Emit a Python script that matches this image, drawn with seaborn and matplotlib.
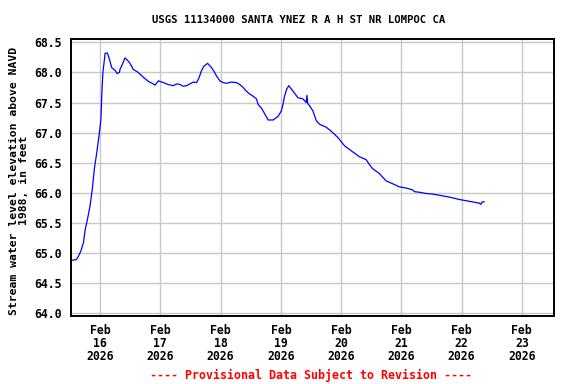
import matplotlib
matplotlib.use("Agg")
import matplotlib.pyplot as plt
import pandas as pd
import seaborn as sns

# hours after 2026-02-16 00:00
hours = [-11.25, -9.5, -8.6, -7.7, -6.6, -6.0, -5.0, -4.0, -3.1, -2.3,
         -1.3, -0.3, 0.3, 0.7, 1.1, 2.0, 2.9, 3.7, 4.6, 6.0,
         6.8, 7.7, 7.9, 8.7, 9.9, 10.7, 11.9, 13.2, 14.8, 15.9,
         17.2, 19.2, 20.7, 21.9, 23.2, 25.2, 27.0, 29.1, 30.6, 31.8,
         33.0, 34.5, 35.8, 37.1, 38.4, 39.3, 40.4, 41.3, 42.8, 44.4,
         45.3, 46.4, 47.7, 49.0, 50.5, 52.3, 54.3, 55.6, 57.0, 58.0,
         59.6, 60.8, 62.3, 62.9, 64.4, 65.6, 66.9, 68.9, 70.9, 72.2,
         72.9, 73.5, 74.3, 75.2, 75.9, 76.8, 77.9, 78.8, 80.8, 82.1,
         82.4, 82.7, 83.4, 84.8, 86.1, 87.4, 90.1, 92.7, 94.7, 97.4,
         100.0, 103.3, 106.0, 107.3, 108.6, 111.3, 113.9, 116.6, 119.2, 121.9,
         124.5, 125.2, 127.2, 129.8, 132.5, 135.1, 139.1, 143.1, 147.0, 151.0,
         151.7, 152.2, 153.0]
# water level elevation, feet
level = [64.88, 64.89, 64.95, 65.03, 65.18, 65.38, 65.57, 65.79, 66.07, 66.40,
         66.68, 67.00, 67.22, 67.67, 68.00, 68.32, 68.32, 68.22, 68.08, 68.03,
         67.98, 68.00, 68.05, 68.12, 68.24, 68.21, 68.15, 68.05, 68.01, 67.97,
         67.92, 67.85, 67.82, 67.79, 67.86, 67.83, 67.80, 67.78, 67.81, 67.80,
         67.77, 67.78, 67.81, 67.84, 67.83, 67.90, 68.03, 68.10, 68.15, 68.08,
         68.02, 67.94, 67.86, 67.83, 67.82, 67.84, 67.83, 67.80, 67.75, 67.70,
         67.64, 67.61, 67.56, 67.47, 67.40, 67.31, 67.21, 67.21, 67.27, 67.36,
         67.48, 67.61, 67.72, 67.78, 67.74, 67.69, 67.63, 67.58, 67.56, 67.50,
         67.62, 67.48, 67.45, 67.36, 67.20, 67.14, 67.09, 67.00, 66.92, 66.78,
         66.70, 66.60, 66.55, 66.47, 66.40, 66.32, 66.20, 66.15, 66.10, 66.08,
         66.05, 66.02, 66.01, 65.99, 65.98, 65.96, 65.93, 65.89, 65.86, 65.83,
         65.81, 65.85, 65.85]
tick_days = ["2026-02-16", "2026-02-17", "2026-02-18", "2026-02-19",
             "2026-02-20", "2026-02-21", "2026-02-22", "2026-02-23"]
y_ticks = [64.0, 64.5, 65.0, 65.5, 66.0, 66.5, 67.0, 67.5, 68.0, 68.5]

base = pd.Timestamp("2026-02-16")
df = pd.DataFrame({"time": base + pd.to_timedelta(hours, unit="h"), "level": level})

plt.rcParams["font.family"] = ["DejaVu Sans Mono"]
plt.rcParams["font.weight"] = "bold"

fig = plt.figure(figsize=(5.76, 3.84), dpi=100)
ax = fig.add_axes([0.1241, 0.1771, 0.9618 - 0.1241, 0.8977 - 0.1771])

sns.lineplot(data=df, x="time", y="level", color="#0000ff", linewidth=0.9, ax=ax)

ax.set_xlim(pd.Timestamp("2026-02-15 12:35"), pd.Timestamp("2026-02-23 12:50"))
ax.set_ylim(63.955, 68.55)
ticks = pd.to_datetime(tick_days)
ax.set_xticks(ticks)
ax.set_xticklabels([t.strftime("%b\n%d\n%Y") for t in ticks], fontsize=8.3,
                   fontweight="bold", linespacing=1.0)
ax.set_yticks(y_ticks)
ax.set_yticklabels(["%.1f" % v for v in y_ticks], fontsize=8.3, fontweight="bold")
ax.tick_params(axis="both", length=0)
ax.tick_params(axis="x", pad=6)
ax.tick_params(axis="y", pad=7)
ax.grid(True, color="#c8c8c8", linewidth=1.0)
ax.set_axisbelow(True)
for s in ax.spines.values():
    s.set_linewidth(1.4)
    s.set_color("black")
ax.set_xlabel("")
ax.set_ylabel("")

fig.text(0.518, 0.948, "USGS 11134000 SANTA YNEZ R A H ST NR LOMPOC CA",
         ha="center", va="center", fontsize=7.7, fontweight="bold")
fig.text(0.033, 0.53, "Stream water level elevation above NAVD\n1988, in feet",
         ha="center", va="center", rotation=90, fontsize=8.2, fontweight="bold",
         multialignment="center", linespacing=1.05)
fig.text(0.54, 0.023, "---- Provisional Data Subject to Revision ----",
         ha="center", va="center", fontsize=8.4, fontweight="bold", color="red")

fig.savefig("out.png", dpi=100)
